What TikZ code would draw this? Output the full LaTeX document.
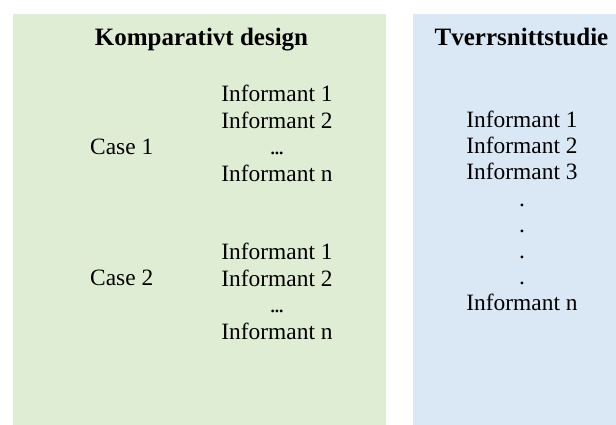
\documentclass[tikz,border=0pt]{standalone}
\usepackage{fontspec}
\setmainfont{Liberation Serif}
\definecolor{panelgreen}{HTML}{DFEDD5}
\definecolor{panelblue}{HTML}{DAE8F6}
\newcommand{\tightdots}{.\kern-1.6pt.\kern-1.6pt.}
\begin{document}
\begin{tikzpicture}[x=1pt,y=-1pt,
  heading/.style={anchor=base,inner sep=0pt,font=\fontsize{25}{30}\selectfont\bfseries},
  entry/.style={anchor=base,inner sep=0pt,font=\fontsize{23.4}{28}\selectfont}]
\useasboundingbox (0,0) rectangle (616,424);
\begin{scope}
\clip (0,0) rectangle (616,424);
% two coloured panels
\fill[panelgreen] (13,14) rectangle (386,430);
\fill[panelblue] (413,14) rectangle (630,430);
\end{scope}
% headings
\node[heading] (hcomp) at (201.5,45) {Komparativt design};
\node[heading] (htver) at (521.5,45) {Tverrsnittstudie};
% comparative design: case 1
\node[entry] (c1) at (121.7,154) {Case 1};
\node[entry] (c1i1) at (277,101.5) {Informant 1};
\node[entry] (c1i2) at (277,128) {Informant 2};
\node[entry] (c1d)  at (277,154.5) {\tightdots};
\node[entry] (c1in) at (277,181) {Informant n};
% comparative design: case 2
\node[entry] (c2) at (121.7,285) {Case 2};
\node[entry] (c2i1) at (277,259.5) {Informant 1};
\node[entry] (c2i2) at (277,286) {Informant 2};
\node[entry] (c2d)  at (277,312.5) {\tightdots};
\node[entry] (c2in) at (277,339) {Informant n};
% cross-sectional study
\node[entry] (ti1) at (522,127.5) {Informant 1};
\node[entry] (ti2) at (522,153.7) {Informant 2};
\node[entry] (ti3) at (522,179.9) {Informant 3};
\node[entry] (td1) at (522,206.1) {.};
\node[entry] (td2) at (522,232.3) {.};
\node[entry] (td3) at (522,258.5) {.};
\node[entry] (td4) at (522,284.7) {.};
\node[entry] (tin) at (522,310.9) {Informant n};
\end{tikzpicture}
\end{document}
